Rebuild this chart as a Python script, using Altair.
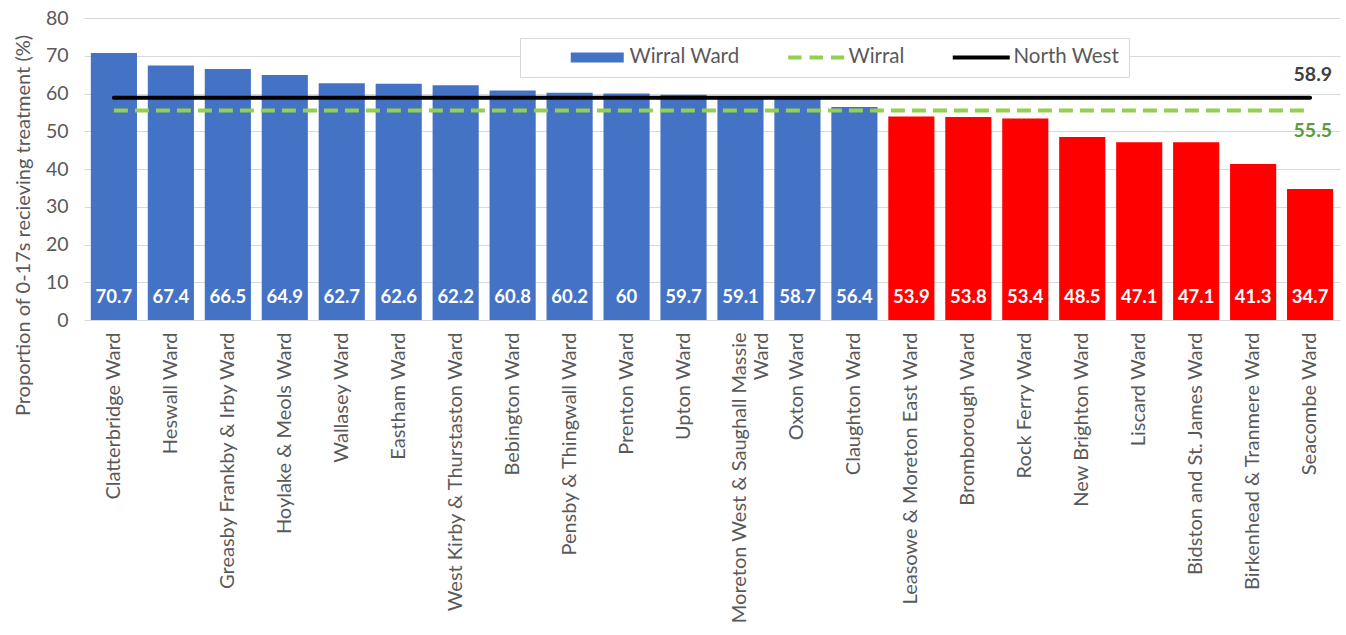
import altair as alt
import pandas as pd

# Ward-level share of 0-17s receiving treatment (%), sorted high to low
wards = [
    "Clatterbridge Ward", "Heswall Ward", "Greasby Frankby & Irby Ward",
    "Hoylake & Meols Ward", "Wallasey Ward", "Eastham Ward",
    "West Kirby & Thurstaston Ward", "Bebington Ward", "Pensby & Thingwall Ward",
    "Prenton Ward", "Upton Ward", "Moreton West & Saughall Massie Ward",
    "Oxton Ward", "Claughton Ward", "Leasowe & Moreton East Ward",
    "Bromborough Ward", "Rock Ferry Ward", "New Brighton Ward", "Liscard Ward",
    "Bidston and St. James Ward", "Birkenhead & Tranmere Ward", "Seacombe Ward",
]
treated_pct = [
    70.7, 67.4, 66.5, 64.9, 62.7, 62.6, 62.2, 60.8, 60.2, 60, 59.7,
    59.1, 58.7, 56.4, 53.9, 53.8, 53.4, 48.5, 47.1, 47.1, 41.3, 34.7,
]

# Comparator averages
wirral_avg = 55.5
north_west_avg = 58.9

series_names = ["Wirral Ward", "Wirral", "North West"]
series_colours = ["#4472C4", "#92D050", "#000000"]
# legend glyphs: filled bar, dashed line, solid line
series_glyphs = [
    "M-2.65,-0.5H2.65V0.5H-2.65Z",
    "M-2.8,-0.2H-1.47V0.2H-2.8Z M-0.67,-0.2H0.67V0.2H-0.67Z M1.47,-0.2H2.8V0.2H1.47Z",
    "M-2.85,-0.2H2.85V0.2H-2.85Z",
]

BLUE = "#4472C4"
RED = "#FF0000"
GREY = "#595959"
GRID = "#D9D9D9"
FONT = "Lato"
Y_TITLE = "Proportion of 0-17s recieving treatment (%)"

n = len(wards)
bars_df = pd.DataFrame({"ward": wards, "pct": treated_pct})
ref_df = pd.DataFrame({
    "ward": wards * 2,
    "series": ["Wirral"] * n + ["North West"] * n,
    "pct": [wirral_avg] * n + [north_west_avg] * n,
})
end_df = pd.DataFrame({
    "ward": [wards[-1], wards[-1]],
    "series": ["North West", "Wirral"],
    "pct": [north_west_avg, wirral_avg],
})

x_enc = alt.X(
    "ward:N",
    sort=wards,
    scale=alt.Scale(paddingInner=0.19, paddingOuter=0.12),
    axis=alt.Axis(
        title=None,
        labelAngle=-90,
        labelAlign="right",
        labelBaseline="middle",
        labelFont=FONT,
        labelFontSize=20,
        labelColor=GREY,
        labelPadding=12,
        labelLimit=400,
        ticks=False,
        domain=False,
        labelExpr="datum.value == 'Moreton West & Saughall Massie Ward' ? "
                  "['Moreton West & Saughall Massie', 'Ward'] : datum.value",
    ),
)


def y_enc(field):
    return alt.Y(
        f"{field}:Q",
        scale=alt.Scale(domain=[0, 80]),
        axis=alt.Axis(
            title=Y_TITLE,
            values=list(range(0, 81, 10)),
            grid=True,
            gridColor=GRID,
            gridWidth=1,
            domain=False,
            ticks=False,
            labelFont=FONT,
            labelFontSize=19.5,
            labelColor=GREY,
            labelPadding=16,
            titleFont=FONT,
            titleFontSize=20,
            titleFontWeight="normal",
            titleColor=GREY,
            titlePadding=12,
            titleY=207,
        ),
    )


bars = alt.Chart(bars_df).mark_bar().encode(
    x=x_enc,
    y=y_enc("pct"),
    color=alt.when(alt.datum.pct < wirral_avg).then(alt.value(RED)).otherwise(alt.value(BLUE)),
)

bar_labels = alt.Chart(bars_df).transform_calculate(base="0").mark_text(
    font=FONT, fontSize=18.5, fontWeight="bold", color="white",
    baseline="middle", align="center", dy=-23,
).encode(
    x=x_enc,
    y=y_enc("base"),
    text=alt.Text("pct:Q"),
)

wirral_line = alt.Chart(ref_df).transform_filter(alt.datum.series == "Wirral").mark_line(
    strokeWidth=4, strokeDash=[14, 7], color="#92D050", strokeCap="butt",
).encode(x=x_enc, y=y_enc("pct"))

nw_line = alt.Chart(ref_df).transform_filter(alt.datum.series == "North West").mark_line(
    strokeWidth=4, color="#000000", strokeCap="round",
).encode(x=x_enc, y=y_enc("pct"))

nw_label = alt.Chart(end_df).transform_filter(alt.datum.series == "North West").mark_text(
    font=FONT, fontSize=19.5, fontWeight="bold", color="#404040",
    align="right", baseline="middle", dx=22, dy=-23,
).encode(x=x_enc, y=y_enc("pct"), text=alt.Text("pct:Q"))

wirral_label = alt.Chart(end_df).transform_filter(alt.datum.series == "Wirral").mark_text(
    font=FONT, fontSize=19.5, fontWeight="bold", color="#5B9A3D",
    align="right", baseline="middle", dx=22, dy=21,
).encode(x=x_enc, y=y_enc("pct"), text=alt.Text("pct:Q"))

legend_def = alt.Legend(
    title=None,
    orient="none",
    legendX=436,
    legendY=20,
    direction="horizontal",
    symbolSize=400,
    symbolStrokeWidth=0,
    symbolOpacity=1,
    symbolOffset=58,
    labelOffset=22,
    columnPadding=8,
    labelFont=FONT,
    labelFontSize=20.5,
    labelColor=GREY,
    padding=9,
    strokeColor=GRID,
    fillColor="white",
)

# empty point layer that only carries the series legend
key = alt.Chart(ref_df).transform_filter("false").mark_point(filled=True).encode(
    x=x_enc,
    y=y_enc("pct"),
    color=alt.Color("series:N", scale=alt.Scale(domain=series_names, range=series_colours), legend=legend_def),
    shape=alt.Shape("series:N", scale=alt.Scale(domain=series_names, range=series_glyphs), legend=legend_def),
)

chart = alt.layer(
    bars, bar_labels, wirral_line, nw_line, nw_label, wirral_label, key
).properties(
    width=1256,
    height=302,
    autosize=alt.AutoSizeParams(type="none"),
    padding={"left": 84, "top": 18, "right": 6, "bottom": 315},
    background="white",
).configure_view(stroke=None)

chart.save("out.html", embed_options={"renderer": "svg", "actions": False})
